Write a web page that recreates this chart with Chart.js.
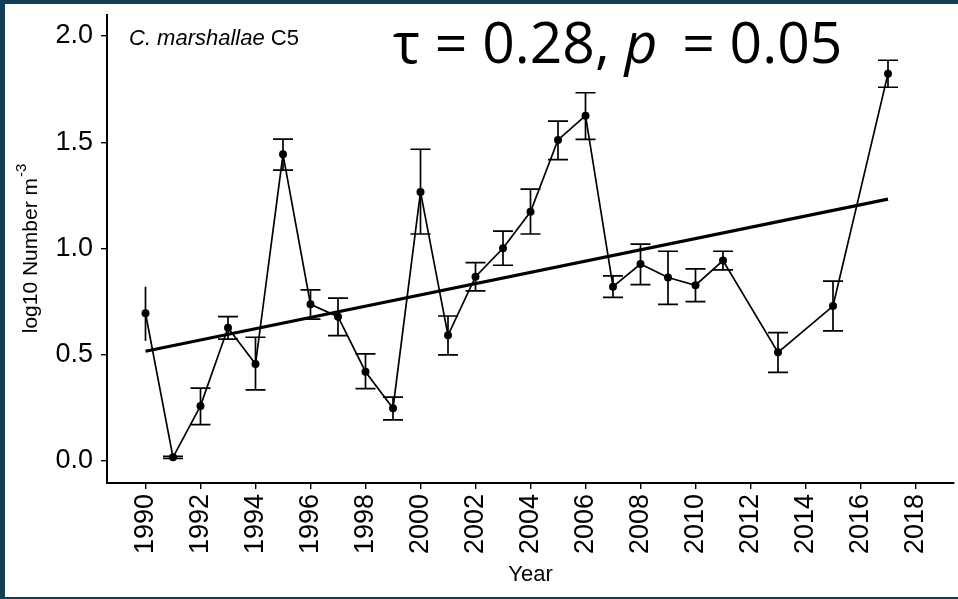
<!DOCTYPE html>
<html>
<head>
<meta charset="utf-8">
<script src="https://cdn.jsdelivr.net/npm/chart.js@4.4.1/dist/chart.umd.min.js"></script>
<style>
  html, body { margin: 0; padding: 0; background: #123f55; width: 958px; height: 599px; overflow: hidden; }
  #frame { position: absolute; left: 5px; top: 4px; width: 953px; height: 593px; background: #fff; }
</style>
</head>
<body>
<div id="frame"><canvas id="chart"></canvas></div>
<script>
// yearly mean abundance (log10 number per m3) with its error range
const years = [1990, 1991, 1992, 1993, 1994, 1995, 1996, 1997, 1998, 1999,
               2000, 2001, 2002, 2003, 2004, 2005, 2006, 2007, 2008, 2009,
               2010, 2011, 2013, 2015, 2017];
const counts = [0.695, 0.017, 0.259, 0.627, 0.456, 1.443, 0.737, 0.679, 0.420, 0.248,
                1.266, 0.591, 0.867, 1.001, 1.173, 1.511, 1.625, 0.820, 0.927, 0.863,
                0.827, 0.943, 0.511, 0.729, 1.823];
const countsLow = [0.565, 0.012, 0.171, 0.573, 0.334, 1.369, 0.667, 0.590, 0.340, 0.193,
                   1.068, 0.499, 0.800, 0.921, 1.068, 1.418, 1.514, 0.770, 0.830, 0.737,
                   0.750, 0.899, 0.417, 0.612, 1.759];
const countsHigh = [0.820, 0.022, 0.343, 0.679, 0.582, 1.515, 0.805, 0.766, 0.504, 0.300,
                    1.467, 0.682, 0.933, 1.082, 1.279, 1.599, 1.733, 0.871, 1.020, 0.987,
                    0.904, 0.987, 0.604, 0.846, 1.886];

// trend line end points
const trendYears = [1990, 2017];
const trendValues = [0.516, 1.232];

const yearTicks = [1990, 1992, 1994, 1996, 1998, 2000, 2002, 2004, 2006, 2008,
                   2010, 2012, 2014, 2016, 2018];
const countTicks = [0, 0.5, 1, 1.5, 2];

const FONT = "'Liberation Sans', Arial, sans-serif";
Chart.defaults.font.family = FONT;
Chart.defaults.color = "#000";

const errorBars = {
    id: "errorBars",
    afterDatasetsDraw(chart) {
        const {ctx, scales: {x, y}} = chart;
        ctx.save();
        ctx.strokeStyle = "#000";
        ctx.lineWidth = 1.7;
        years.forEach((yr, i) => {
            const px = x.getPixelForValue(yr);
            const top = y.getPixelForValue(countsHigh[i]);
            const bottom = y.getPixelForValue(countsLow[i]);
            ctx.beginPath();
            ctx.moveTo(px, top);
            ctx.lineTo(px, bottom);
            // first year is drawn without caps
            if (i > 0) {
                ctx.moveTo(px - 10, top);
                ctx.lineTo(px + 10, top);
                ctx.moveTo(px - 10, bottom);
                ctx.lineTo(px + 10, bottom);
            }
            ctx.stroke();
        });
        ctx.restore();
    }
};

const labels = {
    id: "labels",
    afterDraw(chart) {
        const {ctx, chartArea} = chart;
        ctx.save();
        ctx.fillStyle = "#000";

        // y axis title with superscript
        ctx.translate(26, (chartArea.top + chartArea.bottom) / 2);
        ctx.rotate(-Math.PI / 2);
        ctx.textBaseline = "middle";
        ctx.textAlign = "left";
        const main = "log10 Number m";
        ctx.font = "21px " + FONT;
        const w1 = ctx.measureText(main).width;
        ctx.font = "15px " + FONT;
        const w2 = ctx.measureText("-3").width;
        const start = -(w1 + w2) / 2;
        ctx.font = "21px " + FONT;
        ctx.fillText(main, start, 0);
        ctx.font = "15px " + FONT;
        ctx.fillText("-3", start + w1 + 1, -9);
        ctx.setTransform(1, 0, 0, 1, 0, 0);

        // species label
        ctx.textBaseline = "alphabetic";
        ctx.font = "italic 22px " + FONT;
        ctx.fillText("C. marshallae", 124, 41);
        const ws = ctx.measureText("C. marshallae ").width;
        ctx.font = "22px " + FONT;
        ctx.fillText("C5", 124 + ws, 41);

        // Kendall test result
        const big = "57px 'Open Sans', sans-serif";
        let px = 388;
        ctx.font = big;
        ctx.fillText("\u03c4 = 0.28, ", px, 59);
        px += ctx.measureText("\u03c4 = 0.28, ").width;
        ctx.font = "italic " + big;
        ctx.fillText("p", px, 59);
        px += ctx.measureText("p").width + 10;
        ctx.font = big;
        ctx.fillText(" = 0.05", px, 59);
        ctx.restore();
    }
};

new Chart(document.getElementById("chart"), {
    type: "line",
    data: {
        datasets: [{
            data: years.map((yr, i) => ({x: yr, y: counts[i]})),
            borderColor: "#000",
            backgroundColor: "#000",
            borderWidth: 1.7,
            pointRadius: 4,
            pointBackgroundColor: "#000",
            pointBorderWidth: 0,
            tension: 0
        }, {
            data: trendYears.map((yr, i) => ({x: yr, y: trendValues[i]})),
            borderColor: "#000",
            borderWidth: 3.2,
            pointRadius: 0,
            tension: 0
        }]
    },
    options: {
        responsive: true,
        maintainAspectRatio: false,
        animation: false,
        layout: {padding: {left: 0, right: 3, top: 11, bottom: 0}},
        plugins: {legend: {display: false}, tooltip: {enabled: false}},
        scales: {
            x: {
                type: "linear",
                min: 1988.6,
                max: 2019.4,
                afterBuildTicks: s => { s.ticks = yearTicks.map(v => ({value: v})); },
                afterFit: s => { s.height = 114; s.paddingLeft = 0; s.paddingRight = 0; },
                grid: {drawOnChartArea: false, drawTicks: true, tickLength: 6, color: "#000", lineWidth: 1.4},
                border: {display: true, color: "#000", width: 2},
                ticks: {
                    minRotation: 90, maxRotation: 90, autoSkip: false,
                    padding: 5, font: {size: 27}, color: "#000",
                    callback: v => String(v)
                },
                title: {display: true, text: "Year", font: {size: 22}, color: "#000", padding: {top: 0, bottom: 9}}
            },
            y: {
                min: -0.104,
                max: 2.099,
                afterBuildTicks: s => { s.ticks = countTicks.map(v => ({value: v})); },
                afterFit: s => { s.width = 102; s.paddingTop = 0; s.paddingBottom = 0; },
                grid: {drawOnChartArea: false, drawTicks: true, tickLength: 6, color: "#000", lineWidth: 1.4},
                border: {display: true, color: "#000", width: 2},
                ticks: {padding: 8, font: {size: 27}, color: "#000", callback: v => v.toFixed(1)}
            }
        }
    },
    plugins: [errorBars, labels]
});
</script>
</body>
</html>
